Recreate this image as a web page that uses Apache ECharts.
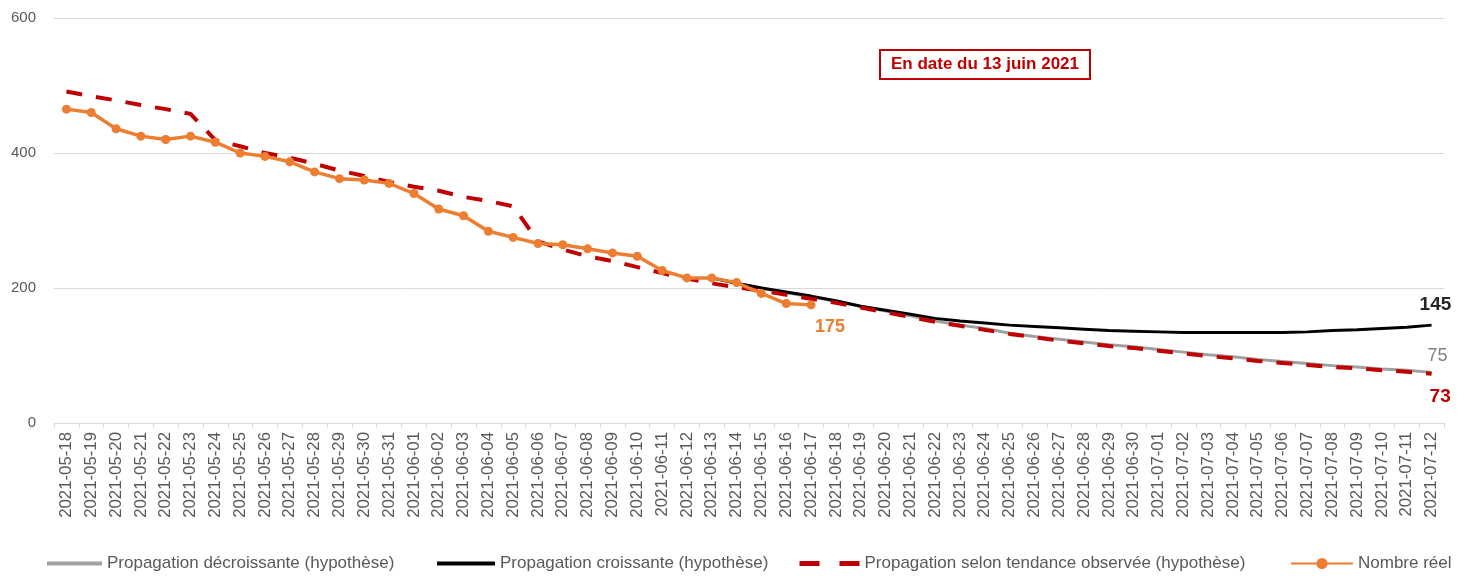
<!DOCTYPE html>
<html><head><meta charset="utf-8">
<script src="https://cdn.jsdelivr.net/npm/echarts@6/dist/echarts.min.js"></script>
<style>html,body{margin:0;padding:0;background:#fff}#c{width:1466px;height:576px}</style>
</head><body><div id="c"></div>
<script>
const dates = ["2021-05-18","2021-05-19","2021-05-20","2021-05-21","2021-05-22","2021-05-23","2021-05-24","2021-05-25","2021-05-26","2021-05-27","2021-05-28","2021-05-29","2021-05-30","2021-05-31","2021-06-01","2021-06-02","2021-06-03","2021-06-04","2021-06-05","2021-06-06","2021-06-07","2021-06-08","2021-06-09","2021-06-10","2021-06-11","2021-06-12","2021-06-13","2021-06-14","2021-06-15","2021-06-16","2021-06-17","2021-06-18","2021-06-19","2021-06-20","2021-06-21","2021-06-22","2021-06-23","2021-06-24","2021-06-25","2021-06-26","2021-06-27","2021-06-28","2021-06-29","2021-06-30","2021-07-01","2021-07-02","2021-07-03","2021-07-04","2021-07-05","2021-07-06","2021-07-07","2021-07-08","2021-07-09","2021-07-10","2021-07-11","2021-07-12"];
const N = null;
const decroissante = [N,N,N,N,N,N,N,N,N,N,N,N,N,N,N,N,N,N,N,N,N,N,N,N,N,N,
  215,207,200,193,187,180,173,166,159,151,145,140,133,128,124,120,116,113,109,105,101,98,94,91,88,85,83,80,78,75];
const croissante = [N,N,N,N,N,N,N,N,N,N,N,N,N,N,N,N,N,N,N,N,N,N,N,N,N,N,
  215,207,200,194,188,181,173,167,161,155,151,148,145,143,141,139,137,136,135,134,134,134,134,134,135,137,138,140,142,145];
const tendance = [491,484,478,471,465,458,
  419,410,400,393,384,374,366,357,350,344,335,329,321,
  269,257,247,240,231,222,214,
  207,201,196,190,184,178,171,164,157,150,144,138,132,127,122,118,114,111,107,103,99,96,92,89,86,83,81,78,76,73];
const reel = [465,460,436,425,420,425,416,400,395,387,372,362,360,355,340,317,307,284,275,266,264,258,252,247,226,215,215,208,192,177,175];
const yTicks = {min:0, max:600, interval:200};
const names = ["Propagation décroissante (hypothèse)","Propagation croissante (hypothèse)","Propagation selon tendance observée (hypothèse)","Nombre réel"];
const annotation = "En date du 13 juin 2021";

function withEndLabel(arr, label){
  let last = -1;
  arr.forEach((v,i)=>{ if(v!==null) last=i; });
  return arr.map((v,i)=> i===last ? {value:v, label:Object.assign({show:true, formatter:'{c}'}, label)} : v);
}
const FONT = 'Liberation Sans';
const chart = echarts.init(document.getElementById('c'));
const hidden = {color:'rgba(0,0,0,0)', borderColor:'rgba(0,0,0,0)', borderWidth:0};
const legendBase = {top:555, padding:0, itemHeight:14, textStyle:{color:'#595959', fontSize:17, fontFamily:FONT}, itemGap:5};
chart.setOption({
  animation:false,
  textStyle:{fontFamily:FONT},
  title:{text:annotation, left:880, top:50, padding:[6,11], borderColor:'#C00000', borderWidth:2,
    textStyle:{color:'#C00000', fontWeight:'bold', fontSize:17, fontFamily:FONT}},
  grid:{left:54, right:22, top:18, bottom:153},
  legend:[
    Object.assign({}, legendBase, {left:45, itemWidth:55, data:[names[0]], itemStyle:hidden, lineStyle:{width:4}}),
    Object.assign({}, legendBase, {left:435, itemWidth:58, data:[names[1]], itemStyle:hidden, lineStyle:{width:4}}),
    Object.assign({}, legendBase, {left:797, itemWidth:60, data:[names[2]], itemStyle:hidden, lineStyle:{width:5, type:[20,20]}}),
    Object.assign({}, legendBase, {left:1290, itemWidth:62, data:[names[3]]})
  ],
  xAxis:{type:'category', data:dates, boundaryGap:true,
    axisLine:{lineStyle:{color:'#d9d9d9', width:1}},
    axisTick:{show:true, length:5, lineStyle:{color:'#d9d9d9'}},
    axisLabel:{rotate:90, interval:0, color:'#595959', fontSize:16.8, margin:9}},
  yAxis:{type:'value', min:yTicks.min, max:yTicks.max, interval:yTicks.interval,
    axisLine:{show:false}, axisTick:{show:false},
    axisLabel:{color:'#595959', fontSize:15, margin:18},
    splitLine:{lineStyle:{color:'#d9d9d9', width:1}}},
  series:[
    {name:names[0], type:'line', symbol:'none',
      lineStyle:{color:'#a0a0a0', width:3}, itemStyle:{color:'#a0a0a0'},
      endLabel:{show:true, formatter:p=>p.value, offset:[-12,-16], color:'#808080', fontSize:18},
      data:decroissante},
    {name:names[1], type:'line', symbol:'none',
      lineStyle:{color:'#000', width:3}, itemStyle:{color:'#000'},
      endLabel:{show:true, formatter:p=>p.value, offset:[-20,-20], color:'#262626', fontSize:19, fontWeight:'bold'},
      data:croissante},
    {name:names[2], type:'line', symbol:'none',
      lineStyle:{color:'#C00000', width:4, type:[16,14]}, itemStyle:{color:'#C00000'},
      endLabel:{show:true, formatter:p=>p.value, offset:[-10,23], color:'#C00000', fontSize:19, fontWeight:'bold'},
      data:tendance},
    {name:names[3], type:'line', symbol:'circle', symbolSize:9, showSymbol:true,
      lineStyle:{color:'#ED7D31', width:3.5}, itemStyle:{color:'#ED7D31'},
      data:withEndLabel(reel,{position:'bottom', offset:[19,4], color:'#ED7D31', fontSize:18, fontWeight:'bold'})}
  ]
});
</script></body></html>
